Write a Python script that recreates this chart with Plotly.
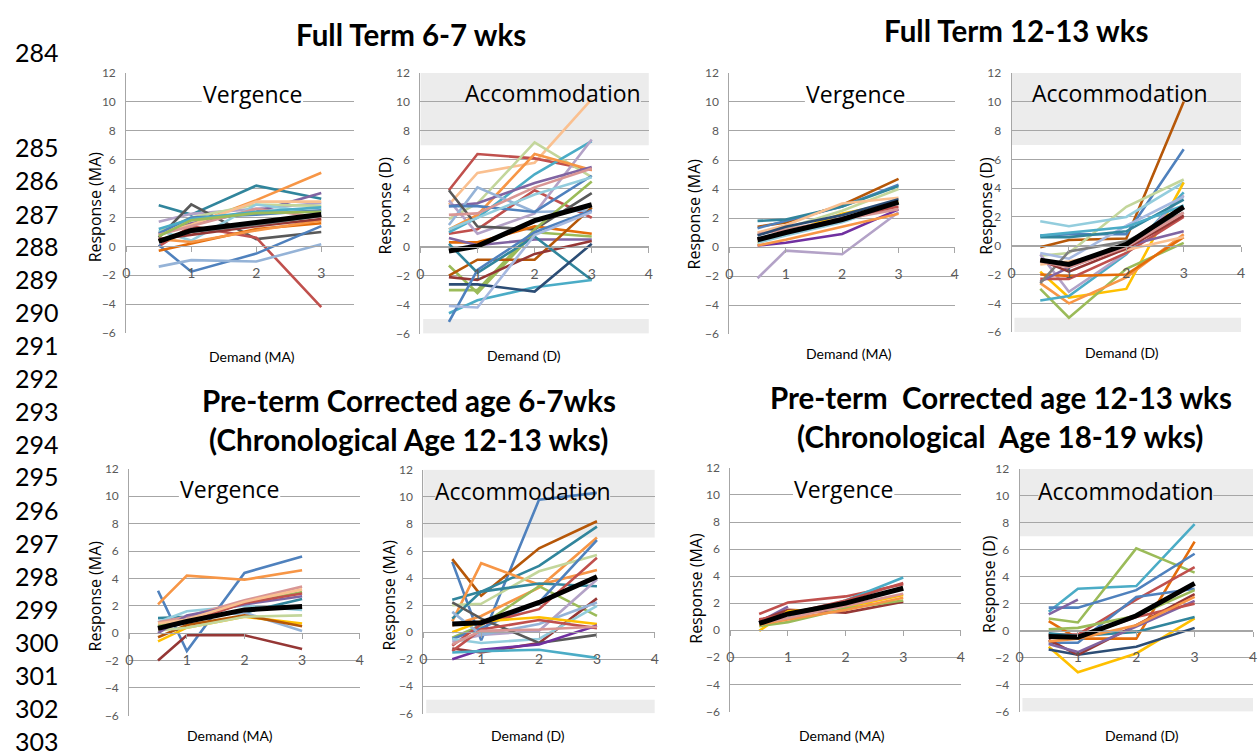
import plotly.graph_objects as go

W, H = 1259, 751

# ---------------- data ----------------
demand = [0.5, 1, 2, 3]

ft67_verg_values = [
    [2.85, 2.2, 4.2, 3.3], [0.9, 1.5, 3.2, 5.1], [1.7, 2.25, 2.6, 3.0], [0.8, 1.6, 2.4, 3.7],
    [0.6, 2.9, 0.5, 1.0], [0.0, 1.4, 0.6, -4.2], [0.1, -1.75, -0.5, 1.4], [-1.4, -0.95, -1.05, 0.15],
    [1.0, 2.0, 2.9, 2.8], [0.9, 1.5, 3.1, 3.1], [1.1, 0.4, 2.9, 2.3], [-0.3, 0.2, 1.2, 1.6],
    [0.5, 0.3, 1.1, 1.8], [0.9, 2.0, 2.2, 2.5], [0.8, 1.4, 2.6, 2.0], [0.5, 0.8, 1.4, 1.9],
    [1.2, 1.9, 2.4, 2.7], [0.7, 1.8, 2.3, 2.4], [0.4, 1.0, 1.5, 2.1],
]
ft67_verg_colors = ["#31859C", "#F79646", "#B3A2C7", "#8064A2", "#595959", "#C0504D", "#4F81BD", "#95B3D7",
                    "#C3D69B", "#FAC090", "#93CDDD", "#E46C0A", "#F79646", "#4F81BD", "#D99694", "#953735",
                    "#4BACC6", "#9BBB59", "#7F7F7F"]
ft67_verg_mean = [0.35, 1.1, 1.65, 2.2]

ft67_acc_values = [
    [2.9, 5.1, 5.8, 10.2], [3.9, 6.4, 6.1, 5.3], [0.9, 1.2, 3.9, 2.0], [1.9, 3.0, 7.2, 4.8],
    [1.0, 2.0, 5.0, 7.3], [3.2, 0.9, 2.3, 7.4], [1.2, 2.2, 6.4, 5.3], [2.8, 3.0, 4.4, 5.5],
    [1.5, 4.1, 2.4, 2.5], [2.8, 2.8, 2.4, 4.9], [3.9, 1.4, 1.2, 3.7], [2.2, 2.3, 4.1, 5.4],
    [1.2, 2.0, 3.6, 4.8], [0.3, 0.3, 1.4, 0.9], [-1.3, -3.2, 1.0, 0.7], [-3.0, -3.0, 1.2, 4.5],
    [0.6, 0.1, 0.5, 0.5], [-2.0, -0.9, -0.9, 2.7], [-2.1, -2.3, -0.5, 0.4], [0.2, -1.8, 0.7, -2.3],
    [-4.6, -3.7, -2.8, -2.3], [-2.6, -2.6, -3.1, 0.2], [-5.2, -1.6, 1.0, 2.5], [-4.1, -4.2, 0.8, 2.4],
]
ft67_acc_colors = ["#FAC090", "#C0504D", "#C0504D", "#C3D69B", "#4BACC6", "#B3A2C7", "#F79646", "#8064A2",
                   "#95B3D7", "#4F81BD", "#595959", "#D99694", "#93CDDD", "#E46C0A", "#9BBB59", "#9BBB59",
                   "#8064A2", "#B65708", "#953735", "#31859C", "#4BACC6", "#2C4D75", "#4F81BD", "#A6B9E0"]
ft67_acc_mean = [-0.3, 0.05, 1.8, 2.9]

ft1213_verg_values = [
    [-2.15, -0.25, -0.5, 2.4], [1.4, 1.7, 2.9, 4.7], [1.3, 1.8, 2.8, 4.3], [1.8, 1.9, 2.8, 4.2],
    [0.9, 1.3, 2.5, 4.0], [1.0, 1.5, 3.0, 3.4], [0.3, 0.9, 2.3, 3.1], [0.1, 0.3, 0.9, 2.6],
    [0.1, 0.5, 1.4, 2.3], [0.3, 0.8, 1.7, 3.0], [0.9, 1.2, 1.9, 2.6], [0.5, 1.0, 2.0, 2.8],
    [0.8, 1.4, 2.2, 3.3],
]
ft1213_verg_colors = ["#B3A2C7", "#B65708", "#4F81BD", "#31859C", "#C3D69B", "#FAC090", "#FFC000", "#7030A0",
                      "#F79646", "#93CDDD", "#D99694", "#C0504D", "#2C4D75"]
ft1213_verg_mean = [0.5, 1.0, 1.9, 3.1]

ft1213_acc_values = [
    [-0.1, 0.4, 0.5, 10.0], [0.7, 0.8, 0.8, 6.7], [-0.7, -0.5, 2.7, 4.6], [1.7, 1.35, 2.0, 4.4],
    [-1.8, -3.6, -3.0, 4.4], [-3.0, -5.0, -1.6, 0.2], [-2.6, -4.0, -2.2, 0.8], [-3.8, -3.5, -0.6, 3.7],
    [-0.6, -3.2, -0.5, 3.5], [-0.5, -0.9, 1.4, 3.4], [-2.0, -2.1, -2.0, 0.6], [-2.3, -2.3, -0.5, 2.0],
    [-2.5, -1.5, 0.0, 1.0], [0.6, 0.6, 1.0, 3.2], [-2.6, -0.4, 0.3, 2.3], [-1.3, -1.1, -0.3, 0.6],
    [0.7, 0.9, 1.3, 2.8], [-1.0, -1.8, -0.2, 2.1], [-1.1, -1.5, -0.1, 2.3],
]
ft1213_acc_colors = ["#B65708", "#4F81BD", "#C3D69B", "#93CDDD", "#FFC000", "#9BBB59", "#F79646", "#4BACC6",
                     "#B3A2C7", "#A6B9E0", "#E46C0A", "#C0504D", "#8064A2", "#31859C", "#7F7F7F", "#FAC090",
                     "#4BACC6", "#953735", "#D99694"]
ft1213_acc_mean = [-1.0, -1.3, 0.1, 2.7]

pt67_verg_values = [
    [3.1, -1.3, 4.4, 5.6], [2.1, 4.2, 3.9, 4.6], [-2.0, -0.15, -0.15, -1.15], [1.1, 1.2, 1.5, 2.5],
    [0.8, 1.6, 2.0, 1.7], [0.5, 1.2, 1.5, 0.15], [-0.6, 0.4, 1.2, 0.7], [-0.3, 0.6, 1.3, 0.5],
    [0.2, 0.4, 1.2, 1.3], [0.6, 0.9, 2.2, 3.0], [0.8, 1.2, 2.4, 3.4], [0.0, 1.3, 2.1, 2.7],
    [0.3, 0.8, 2.2, 2.9], [0.7, 1.0, 2.3, 3.2],
]
pt67_verg_colors = ["#4F81BD", "#F79646", "#953735", "#31859C", "#93CDDD", "#95B3D7", "#FFC000", "#B65708",
                    "#C3D69B", "#9BBB59", "#D99694", "#8064A2", "#C0504D", "#FAC090"]
pt67_verg_mean = [0.35, 0.85, 1.7, 1.95]

pt67_acc_values = [
    [5.2, -0.6, 9.8, 10.3], [5.4, 2.7, 6.2, 8.2], [2.4, 3.0, 4.9, 7.8], [0.8, 5.1, 3.5, 4.6],
    [0.5, 1.2, 3.3, 7.0], [2.0, 2.1, 4.5, 5.7], [-0.4, 0.5, 3.4, 1.2], [1.0, 3.0, 3.6, 3.4],
    [-0.5, 0.3, 2.2, 6.8], [-1.0, 0.6, 1.7, 5.5], [-1.2, -1.5, -0.8, 2.5], [-0.7, -0.2, 0.1, 3.9],
    [1.5, -0.2, 0.6, 2.2], [-0.5, -0.8, -0.5, 1.95], [0.0, 0.8, 1.1, 0.6], [2.2, 1.0, -0.8, -0.2],
    [-1.4, 0.2, 0.9, 0.3], [-2.0, -1.3, -0.9, 0.5], [-1.5, -1.4, -1.3, -1.9], [-0.9, 0.1, 0.2, 0.4],
]
pt67_acc_colors = ["#4F81BD", "#B65708", "#31859C", "#F79646", "#F79646", "#C3D69B", "#9BBB59", "#31859C",
                   "#4F81BD", "#C0504D", "#953735", "#B3A2C7", "#95B3D7", "#93CDDD", "#FFC000", "#595959",
                   "#C0504D", "#7030A0", "#4BACC6", "#D99694"]
pt67_acc_mean = [0.6, 0.7, 2.2, 4.1]

pt1213_verg_values = [
    [1.2, 2.05, 2.5, 3.4], [0.6, 1.75, None, None], [0.4, 0.9, 2.2, 3.9], [0.7, 1.5, 1.3, 2.1],
    [-0.05, 1.4, 1.7, 2.6], [0.3, 0.6, 1.6, 2.2], [0.4, 0.8, 1.5, 2.4], [0.5, 0.9, 1.8, 2.7],
    [0.8, 1.2, 2.2, 3.5],
]
pt1213_verg_colors = ["#C0504D", "#8064A2", "#4BACC6", "#953735", "#FFC000", "#9BBB59", "#F79646", "#D99694",
                      "#C0504D"]
pt1213_verg_mean = [0.5, 1.2, 2.0, 3.1]

pt1213_acc_values = [
    [1.4, 3.1, 3.3, 7.9], [0.9, 0.6, 6.1, 4.3], [0.7, -0.6, -0.6, 6.6], [1.7, 1.7, 3.0, 5.7],
    [1.2, 2.3, None, None], [-0.3, -0.3, 2.3, 4.7], [-0.9, -0.9, 2.5, 3.1], [-1.2, -3.1, -1.7, 0.9],
    [-1.4, -1.8, -1.2, 0.2], [-0.2, -0.4, -0.1, 1.0], [-0.7, -1.8, 0.4, 2.7], [-1.0, -1.6, 0.3, 2.2],
    [0.1, 0.2, 1.1, 3.0], [-0.4, -0.5, 1.0, 2.0], [-0.8, -0.6, 0.4, 2.5],
]
pt1213_acc_colors = ["#4BACC6", "#9BBB59", "#E46C0A", "#4F81BD", "#8064A2", "#C0504D", "#4F81BD", "#FFC000",
                     "#2C4D75", "#31859C", "#953735", "#8064A2", "#9BBB59", "#C0504D", "#F79646"]
pt1213_acc_mean = [-0.45, -0.5, 1.1, 3.5]

titles = ["Full Term 6-7 wks", "Full Term 12-13 wks",
          "Pre-term Corrected age 6-7wks", "(Chronological Age 12-13 wks)",
          "Pre-term  Corrected age 12-13 wks", "(Chronological  Age 18-19 wks)"]
line_numbers = [str(n) for n in range(284, 304)]

y_ticks = list(range(-6, 13, 2))

# ---------------- layout helpers ----------------
def px(x):
    return x / W

def py(y):
    return 1 - y / H

panels = [
    dict(vals=ft67_verg_values, cols=ft67_verg_colors, mean=ft67_verg_mean, xb=(123, 352), yb=(66, 332),
         xmax=3.5, band=False, ytitle="Response (MA)", xtitle="Demand (MA)", lab=(250, 88), yt=(92, 203), xt=(250, 356)),
    dict(vals=ft67_acc_values, cols=ft67_acc_colors, mean=ft67_acc_mean, xb=(419, 649), yb=(66, 332.5),
         xmax=4, band=True, ytitle="Response (D)", xtitle="Demand (D)", lab=(553, 87), yt=(383, 202), xt=(523, 355)),
    dict(vals=ft1213_verg_values, cols=ft1213_verg_colors, mean=ft1213_verg_mean, xb=(730, 957), yb=(66, 333),
         xmax=4, band=False, ytitle="Response (MA)", xtitle="Demand (MA)", lab=(857, 88), yt=(694, 210), xt=(850, 353)),
    dict(vals=ft1213_acc_values, cols=ft1213_acc_colors, mean=ft1213_acc_mean, xb=(1014, 1245), yb=(66, 331),
         xmax=4, band=True, ytitle="Response (D)", xtitle="Demand (D)", lab=(1123, 87), yt=(988, 202), xt=(1125, 352)),
    dict(vals=pt67_verg_values, cols=pt67_verg_colors, mean=pt67_verg_mean, xb=(126, 358), yb=(470, 722),
         xmax=4, band=False, ytitle="Response (MA)", xtitle="Demand (MA)", lab=(227, 491), yt=(92, 600), xt=(227, 742)),
    dict(vals=pt67_acc_values, cols=pt67_acc_colors, mean=pt67_acc_mean, xb=(422, 655), yb=(471, 720),
         xmax=4, band=True, ytitle="Response (MA)", xtitle="Demand (D)", lab=(522, 493), yt=(388, 599), xt=(527, 742)),
    dict(vals=pt1213_verg_values, cols=pt1213_verg_colors, mean=pt1213_verg_mean, xb=(731, 963), yb=(469, 718),
         xmax=4, band=False, ytitle="Response (MA)", xtitle="Demand (MA)", lab=(845, 491), yt=(697, 592), xt=(843, 742)),
    dict(vals=pt1213_acc_values, cols=pt1213_acc_colors, mean=pt1213_acc_mean, xb=(1022, 1257), yb=(470, 718),
         xmax=4, band=True, ytitle="Response (D)", xtitle="Demand (D)", lab=(1129, 493), yt=(992, 588), xt=(1145, 742)),
]

fig = go.Figure()
annotations = []
shapes = []
GRID = "#a6a6a6"
TICKC = "#595959"
FONT = "Lato, Open Sans, sans-serif"
BAND = "#ececec"

for i, p in enumerate(panels):
    n = i + 1
    xa = "x" if n == 1 else f"x{n}"
    ya = "y" if n == 1 else f"y{n}"
    xkey = "xaxis" if n == 1 else f"xaxis{n}"
    ykey = "yaxis" if n == 1 else f"yaxis{n}"
    x0, x1 = px(p["xb"][0]), px(p["xb"][1])
    ytop, ybot = py(p["yb"][0]), py(p["yb"][1])
    zero_pos = ybot + (0 - (-6)) / 18 * (ytop - ybot)
    xt_vals = [0, 1, 2, 3] if p["xmax"] < 4 else [0, 1, 2, 3, 4]

    # pixel -> data converters for this panel (layout only)
    def dx(xpix, p=p):
        return (xpix - p["xb"][0]) / (p["xb"][1] - p["xb"][0]) * p["xmax"]

    def dy(ypix, p=p):
        return 12 - (ypix - p["yb"][0]) / (p["yb"][1] - p["yb"][0]) * 18

    for v, c in zip(p["vals"], p["cols"]):
        fig.add_trace(go.Scatter(x=demand, y=v, mode="lines", line=dict(color=c, width=2.6),
                                 xaxis=xa, yaxis=ya, showlegend=False, hoverinfo="skip",
                                 connectgaps=False))
    fig.add_trace(go.Scatter(x=demand, y=p["mean"], mode="lines", line=dict(color="black", width=5),
                             xaxis=xa, yaxis=ya, showlegend=False, hoverinfo="skip"))

    fig.layout[xkey] = dict(domain=[x0, x1], range=[0, p["xmax"]], anchor="free", position=zero_pos,
                            showline=True, linecolor=GRID, linewidth=1, showgrid=False, zeroline=False,
                            tickvals=xt_vals, ticktext=[str(t) for t in xt_vals], ticks="outside", ticklen=5,
                            tickcolor=GRID, tickfont=dict(family=FONT, size=14, color=TICKC),
                            ticklabelstandoff=9, fixedrange=True)
    fig.layout[ykey] = dict(domain=[ybot, ytop], range=[-6.02, 12.02], anchor=xa,
                            showline=True, linecolor=GRID, linewidth=1, showgrid=True, gridcolor=GRID,
                            gridwidth=1, zeroline=False, tickvals=y_ticks, ticks="",
                            tickfont=dict(family=FONT, size=12, color=TICKC), ticklabelstandoff=7,
                            fixedrange=True)

    lx, ly = p["lab"]
    if p["band"]:
        shapes.append(dict(type="rect", xref=xa, yref=ya, x0=0, x1=p["xmax"], y0=7, y1=12,
                           fillcolor=BAND, line=dict(width=0), layer="below"))
        shapes.append(dict(type="rect", xref=xa, yref=ya, x0=0.05, x1=p["xmax"], y0=-6, y1=-5,
                           fillcolor=BAND, line=dict(width=0), layer="below"))
        shapes.append(dict(type="rect", xref=xa, yref=ya, x0=dx(lx - 88), x1=dx(lx + 88),
                           y0=dy(ly + 10), y1=dy(ly - 12), fillcolor=BAND, line=dict(width=0),
                           layer="between"))
        label = "Accommodation"
    else:
        shapes.append(dict(type="rect", xref=xa, yref=ya, x0=dx(lx - 51), x1=dx(lx + 51),
                           y0=dy(ly + 10), y1=dy(ly - 12), fillcolor="white", line=dict(width=0),
                           layer="between"))
        label = "Vergence"
    annotations.append(dict(text=label, x=px(lx), y=py(ly), xref="paper",
                            yref="paper", showarrow=False, xanchor="center", yanchor="middle",
                            font=dict(family="Open Sans, sans-serif", size=23, color="black")))
    annotations.append(dict(text=p["ytitle"], x=px(p["yt"][0]), y=py(p["yt"][1]), xref="paper", yref="paper",
                            showarrow=False, textangle=-90, xanchor="center", yanchor="middle",
                            font=dict(family="Open Sans, sans-serif", size=16, color="black")))
    annotations.append(dict(text=p["xtitle"], x=px(p["xt"][0]), y=py(p["xt"][1]), xref="paper", yref="paper",
                            showarrow=False, xanchor="center", yanchor="middle",
                            font=dict(family=FONT, size=14, color="black")))

# titles
title_pos = [(410, 27), (1018, 23), (408, 401), (407, 440), (1003, 397), (1002, 437)]
for t, (tx, ty) in zip(titles, title_pos):
    annotations.append(dict(text=f"<b>{t}</b>", x=px(tx), y=py(ty), xref="paper", yref="paper",
                            showarrow=False, xanchor="center", yanchor="middle",
                            font=dict(family=FONT, size=29.5, color="black")))

# document line numbers on the left margin
ln_y = [45, 142, 176, 210, 243, 277, 310, 344, 378, 411, 445, 478, 512, 546, 580, 613, 647, 681, 714, 748]
for t, yy in zip(line_numbers, ln_y):
    annotations.append(dict(text=t, x=px(9), y=py(yy), xref="paper", yref="paper", showarrow=False,
                            xanchor="left", yanchor="middle",
                            font=dict(family=FONT, size=25, color="black")))

fig.update_layout(width=W, height=H, margin=dict(l=0, r=0, t=0, b=0), paper_bgcolor="white",
                  plot_bgcolor="rgba(0,0,0,0)", annotations=annotations, shapes=shapes, showlegend=False)

fig.write_html("out.html", config={"displayModeBar": False})
